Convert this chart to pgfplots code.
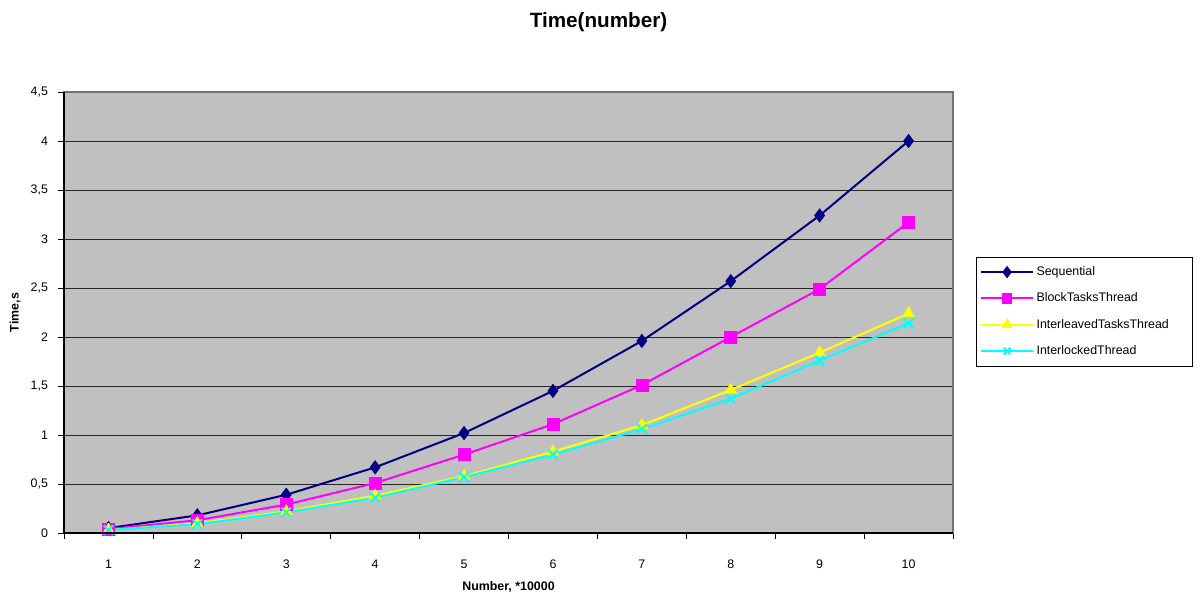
\documentclass[border=0pt]{standalone}
\usepackage{fontspec}
\setmainfont{Liberation Sans}
\usepackage{pgfplots}
\pgfplotsset{compat=1.18}
\definecolor{plotgray}{HTML}{C0C0C0}
\definecolor{seqc}{HTML}{000080}
\definecolor{blockc}{HTML}{FF00FF}
\definecolor{interc}{HTML}{FFFF00}
\definecolor{lockc}{HTML}{00FFFF}
\begin{document}
\begin{tikzpicture}
\useasboundingbox (0,0) rectangle (897.75pt,445.5pt);
\node[font=\fontsize{15.5}{17}\selectfont\bfseries] at (448.9pt,429pt) {Time(number)};
\begin{axis}[
  at={(48pt,45.75pt)}, anchor=south west,
  scale only axis, width=666.75pt, height=330.75pt,
  xmin=0.5, xmax=10.5, ymin=0, ymax=4.5,
  axis background/.style={fill=plotgray},
  axis line style={draw=gray!90!black, line width=1pt},
  xtick={1,...,10},
  minor xtick={0.5,1.5,...,10.5},
  major x tick style={draw=none},
  minor x tick style={black, line width=0.6pt},
  minor tick length=4.5pt,
  ytick={0,0.5,...,4.5},
  major tick length=4.5pt,
  tick align=outside,
  tick style={black, line width=0.6pt},
  xtick pos=bottom, ytick pos=left,
  ymajorgrids,
  major grid style={black!85, line width=0.6pt},
  /pgf/number format/assume math mode=true,
  /pgf/number format/use comma,
  yticklabel style={/pgf/number format/fixed, font=\fontsize{9.3}{10}\selectfont, xshift=-4pt},
  xticklabel style={font=\fontsize{9.3}{10}\selectfont, yshift=-12pt},
  xlabel={Number, *10000},
  ylabel={Time,s},
  xlabel style={font=\fontsize{9.3}{10}\selectfont\bfseries, at={(axis description cs:0.5,-0.1224)}, anchor=center},
  ylabel style={font=\fontsize{9.3}{10}\selectfont\bfseries, at={(axis description cs:-0.0551,0.5)}, anchor=center, rotate=0},
  legend style={at={(1.0259,0.6259)}, anchor=north west, draw=black, fill=white,
    font=\fontsize{9.3}{10}\selectfont, row sep=7.5pt, inner xsep=3pt, inner ysep=5pt,
    nodes={anchor=west, text width=112pt}},
  legend cell align=left,
  legend image code/.code={
    \draw[mark repeat=2,mark phase=2, mark options={scale=0.7}] plot coordinates {(0cm,0cm) (0.68cm,0cm) (1.36cm,0cm)};
  },
]
\addplot[seqc, line width=1.5pt, mark=diamond*, mark size=5pt, mark options={solid, fill=seqc, line width=0.5pt}]
  coordinates {(1,0.05) (2,0.18) (3,0.39) (4,0.67) (5,1.02) (6,1.45) (7,1.96) (8,2.57) (9,3.24) (10,4.00)};
\addlegendentry{Sequential}
\addplot[blockc, line width=1.5pt, mark=square*, mark size=4.5pt, mark options={solid, fill=blockc, line width=0.5pt}]
  coordinates {(1,0.04) (2,0.13) (3,0.29) (4,0.51) (5,0.80) (6,1.11) (7,1.51) (8,2.00) (9,2.49) (10,3.17)};
\addlegendentry{BlockTasksThread}
\addplot[interc, line width=1.5pt, mark=triangle*, mark size=5pt, mark options={solid, fill=interc, line width=0.5pt}]
  coordinates {(1,0.03) (2,0.10) (3,0.22) (4,0.38) (5,0.58) (6,0.83) (7,1.10) (8,1.46) (9,1.84) (10,2.24)};
\addlegendentry{InterleavedTasksThread}
\addplot[lockc, line width=1.5pt, mark=x, mark size=5pt, mark options={solid, line width=1.5pt}]
  coordinates {(1,0.03) (2,0.09) (3,0.21) (4,0.36) (5,0.57) (6,0.80) (7,1.06) (8,1.37) (9,1.76) (10,2.14)};
\addlegendentry{InterlockedThread}
\end{axis}
\draw[black, line width=1pt] (48pt,376.5pt) -- (48pt,45.75pt) -- (714.75pt,45.75pt);
\end{tikzpicture}
\end{document}
